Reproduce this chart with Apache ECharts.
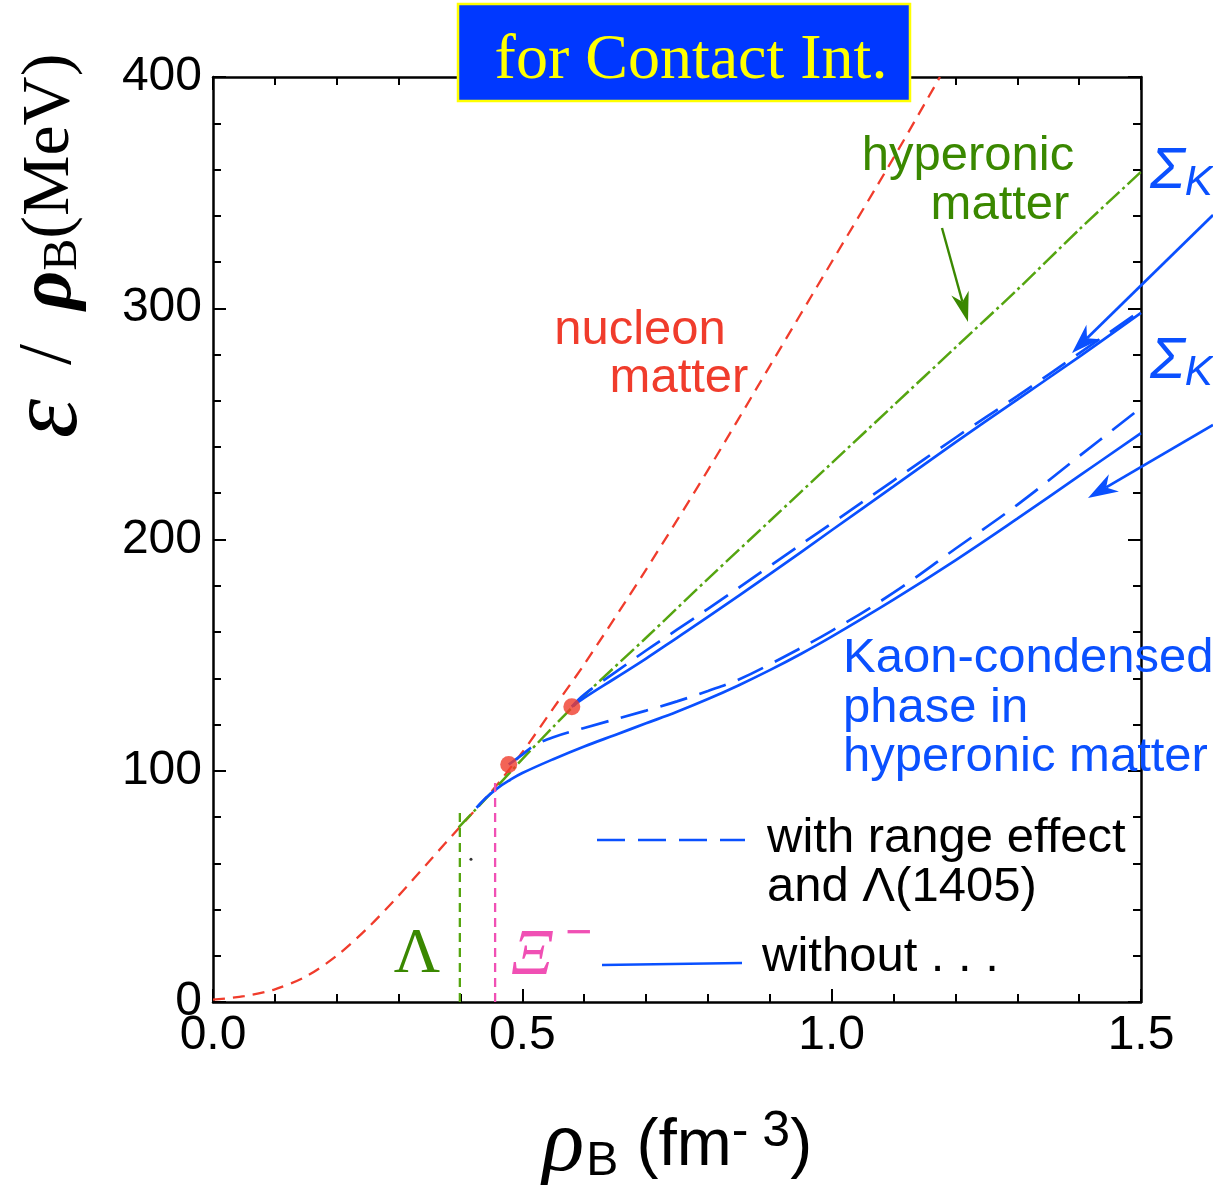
<!DOCTYPE html>
<html>
<head>
<meta charset="utf-8">
<script src="https://cdn.jsdelivr.net/npm/echarts@6/dist/echarts.min.js"></script>
<style>
html,body{margin:0;padding:0;background:#fff;}
#chart{width:1213px;height:1185px;}
</style>
</head>
<body>
<div id="chart"></div>
<script>
// ---- data ----
const xTickLabels = ['0.0', '0.5', '1.0', '1.5'];
const yTickLabels = ['0', '100', '200', '300', '400'];

const nucleonX = [0, 0.05, 0.1, 0.15, 0.2, 0.25, 0.3, 0.35, 0.4, 0.45, 0.5, 0.55, 0.6, 0.7, 0.8, 0.9, 1.0, 1.1, 1.175];
const nucleonY = [1, 2.5, 5.5, 11, 20, 32, 46, 61, 76, 91, 108, 127, 146, 187, 230, 275, 320, 365, 400];

const hyperonX = [0.397, 0.45, 0.5, 0.55, 0.6, 0.7, 0.8, 0.9, 1.0, 1.1, 1.2, 1.3, 1.4, 1.5];
const hyperonY = [75.5, 90.5, 105, 119, 132.5, 157.5, 183, 208, 233, 258, 283, 308, 334, 359];

const upperSolidX = [0.58, 0.6, 0.65, 0.7, 0.75, 0.8, 0.9, 1.0, 1.1, 1.2, 1.3, 1.4, 1.5];
const upperSolidY = [127.7, 131.5, 140, 148.5, 157.5, 166.5, 185, 204, 223, 242, 260.5, 279, 298];

const upperDashX = [0.58, 0.6, 0.65, 0.7, 0.75, 0.8, 0.9, 1.0, 1.1, 1.2, 1.3, 1.4, 1.5];
const upperDashY = [127.7, 133, 142.5, 152, 161, 170, 188.5, 207, 225.5, 244, 262, 280.5, 299];

const lowerSolidX = [0.426, 0.44, 0.46, 0.48, 0.5, 0.55, 0.6, 0.65, 0.7, 0.75, 0.8, 0.85, 0.9, 0.95, 1.0, 1.1, 1.2, 1.3, 1.4, 1.5];
const lowerSolidY = [84, 88, 92.5, 96, 99, 105, 110.5, 115.5, 120.5, 125.5, 131, 137, 143.5, 150.5, 158, 174, 191, 209, 227.5, 246];

const lowerDashX = [0.478, 0.5, 0.52, 0.55, 0.6, 0.7, 0.75, 0.8, 0.85, 0.9, 1.0, 1.1, 1.2, 1.3, 1.4, 1.5];
const lowerDashY = [102.7, 107, 111, 114.5, 118.5, 126, 130, 134.5, 139.5, 146, 160.5, 177, 196, 215, 236, 257];

const lambdaThresholdX = 0.399, lambdaThresholdTop = 82.4;
const xiThresholdX = 0.456, xiThresholdTop = 95;

const onsetX = [0.478, 0.58];
const onsetY = [102.7, 127.7];

const strayDotX = [0.417];
const strayDotY = [61.7];

// ---- build ----
function pair(xs, ys) { return xs.map((x, i) => [x, ys[i]]); }

const BLUE = '#0a50ff';
const RED = '#f03c2c';
const GREEN_LINE = '#55a510';
const GREEN_TXT = '#3a8800';
const PINK = '#f050b4';
const SANS = '"Liberation Sans", Arial, Helvetica, sans-serif';
const SERIF = '"Liberation Serif", "Times New Roman", serif';
const LBL = '49px ' + SANS;

const chart = echarts.init(document.getElementById('chart'), null, { renderer: 'canvas' });

const axisCommon = {
  type: 'value',
  axisLine: { show: true, onZero: false, lineStyle: { color: '#000', width: 2.5 } },
  axisTick: { show: true, inside: true, length: 13, lineStyle: { color: '#000', width: 2 } },
  minorTick: { show: true, splitNumber: 5, length: 8, lineStyle: { color: '#000', width: 2 } },
  splitLine: { show: false },
  minorSplitLine: { show: false }
};

const option = {
  animation: false,
  backgroundColor: '#fff',
  grid: { left: 213, right: 72, top: 77, bottom: 183, containLabel: false, outerBoundsMode: 'none' },
  xAxis: [
    Object.assign({}, axisCommon, {
      position: 'bottom', min: 0, max: 1.5, interval: 0.5,
      axisLabel: { show: true, margin: 10, color: '#000', fontSize: 48, fontFamily: SANS,
        formatter: (v) => xTickLabels[Math.round(v / 0.5)] },
      name: '{r|ρ}{s|B} (fm{sup|- 3})',
      nameLocation: 'middle', nameGap: 101,
      nameTextStyle: {
        color: '#000', fontFamily: SANS, fontSize: 66,
        rich: {
          r: { fontFamily: SERIF, fontStyle: 'italic', fontSize: 88, color: '#000' },
          s: { fontFamily: SANS, fontSize: 48, color: '#000', padding: [30, 0, 0, 2] },
          sup: { fontFamily: SANS, fontSize: 50, color: '#000', padding: [0, 0, 30, 0] }
        }
      }
    }),
    Object.assign({}, axisCommon, {
      position: 'top', min: 0, max: 1.5, interval: 0.5,
      axisLabel: { show: false }
    })
  ],
  yAxis: [
    Object.assign({}, axisCommon, {
      position: 'left', min: 0, max: 400, interval: 100,
      axisLabel: { show: true, margin: 11, color: '#000', fontSize: 48, fontFamily: SANS,
        formatter: (v) => yTickLabels[Math.round(v / 100)] }
    }),
    Object.assign({}, axisCommon, {
      position: 'right', min: 0, max: 400, interval: 100,
      axisLabel: { show: false }
    })
  ],
  series: [
    {
      name: 'nucleon matter', type: 'line', data: pair(nucleonX, nucleonY),
      smooth: 0.3, showSymbol: false, clip: true,
      lineStyle: { color: RED, width: 2.3, type: [12, 8] }
    },
    {
      name: 'hyperonic matter', type: 'line', data: pair(hyperonX, hyperonY),
      smooth: 0.3, showSymbol: false,
      lineStyle: { color: GREEN_LINE, width: 2.5, type: [18, 4, 3, 4] }
    },
    {
      name: 'upper without', type: 'line', data: pair(upperSolidX, upperSolidY),
      smooth: 0.4, showSymbol: false,
      lineStyle: { color: BLUE, width: 2.7, type: 'solid' }
    },
    {
      name: 'upper with range', type: 'line', data: pair(upperDashX, upperDashY),
      smooth: 0.4, showSymbol: false,
      lineStyle: { color: BLUE, width: 2.7, type: [28, 13] }
    },
    {
      name: 'lower without', type: 'line', data: pair(lowerSolidX, lowerSolidY),
      smooth: 0.4, showSymbol: false,
      lineStyle: { color: BLUE, width: 2.7, type: 'solid' }
    },
    {
      name: 'lower with range', type: 'line', data: pair(lowerDashX, lowerDashY),
      smooth: 0.4, showSymbol: false,
      lineStyle: { color: BLUE, width: 2.7, type: [28, 13] }
    },
    {
      name: 'Lambda threshold', type: 'line',
      data: [[lambdaThresholdX, 0], [lambdaThresholdX, lambdaThresholdTop]],
      showSymbol: false, lineStyle: { color: GREEN_LINE, width: 2.3, type: [9, 6] }
    },
    {
      name: 'Xi threshold', type: 'line',
      data: [[xiThresholdX, 0], [xiThresholdX, xiThresholdTop]],
      showSymbol: false, lineStyle: { color: PINK, width: 2.3, type: [9, 6] }
    },
    {
      name: 'onset', type: 'scatter', data: pair(onsetX, onsetY),
      symbolSize: 17, itemStyle: { color: RED }, z: 5
    },
    {
      name: 'dot', type: 'scatter', data: pair(strayDotX, strayDotY),
      symbolSize: 3, itemStyle: { color: '#000' }
    }
  ]
};

chart.setOption(option);

// ---- annotations ----
function arrow(x1, y1, x2, y2, color, lw, headLen, headW) {
  const dx = x2 - x1, dy = y2 - y1;
  const L = Math.sqrt(dx * dx + dy * dy);
  const ux = dx / L, uy = dy / L;
  const px = -uy, py = ux;
  const bx = x2 - ux * headLen, by = y2 - uy * headLen;
  const nx = x2 - ux * headLen * 0.7, ny = y2 - uy * headLen * 0.7;
  return [
    { type: 'line', z: 50, shape: { x1: x1, y1: y1, x2: nx, y2: ny }, style: { stroke: color, lineWidth: lw } },
    { type: 'polygon', z: 50, shape: { points: [[x2, y2], [bx + px * headW / 2, by + py * headW / 2], [nx, ny], [bx - px * headW / 2, by - py * headW / 2]] },
      style: { fill: color } }
  ];
}

function txt(x, y, text, font, color, align) {
  return { type: 'text', z: 60, x: x, y: y,
    style: { text: text, font: font, fill: color, align: align || 'left', verticalAlign: 'middle' } };
}

const g = [];
// title box
g.push({ type: 'rect', z: 80, shape: { x: 458, y: 4, width: 452, height: 97 },
  style: { fill: '#0038ff', stroke: '#ffff00', lineWidth: 2.5 } });
g.push({ type: 'text', z: 81, x: 691, y: 61,
  style: { text: 'for Contact Int.', font: '64px ' + SERIF, fill: '#ffff00', align: 'center', verticalAlign: 'middle' } });

// y axis title (rotated)
g.push({ type: 'text', z: 60, x: 50, y: 246, rotation: Math.PI / 2,
  style: {
    text: '{e|ε}  {sl|/}  {r|ρ}{s|B}(MeV)', fill: '#000', font: '68px ' + SERIF,
    align: 'center', verticalAlign: 'middle',
    rich: {
      e: { font: 'italic 100px ' + SERIF, fill: '#000' },
      sl: { font: '76px ' + SERIF, fill: '#000' },
      r: { font: 'italic bold 76px ' + SERIF, fill: '#000' },
      s: { font: '48px ' + SERIF, fill: '#000', padding: [26, 0, 0, 0] }
    }
  } });

// curve labels
g.push(txt(640, 330, 'nucleon', LBL, RED, 'center'));
g.push(txt(679, 378, 'matter', LBL, RED, 'center'));
g.push(txt(968, 156, 'hyperonic', LBL, GREEN_TXT, 'center'));
g.push(txt(1000, 205, 'matter', LBL, GREEN_TXT, 'center'));
g.push(txt(843, 658, 'Kaon-condensed', LBL, BLUE));
g.push(txt(843, 708, 'phase in', LBL, BLUE));
g.push(txt(843, 757, 'hyperonic matter', LBL, BLUE));

// Sigma labels (cut at the right edge)
g.push({ type: 'text', z: 60, x: 1150, y: 172,
  style: { text: '{a|Σ}{b|KN}', fill: BLUE, align: 'left', verticalAlign: 'middle',
    rich: { a: { font: 'italic 58px ' + SANS, fill: BLUE }, b: { font: 'italic 42px ' + SANS, fill: BLUE, padding: [22, 0, 0, 0] } } } });
g.push({ type: 'text', z: 60, x: 1150, y: 362,
  style: { text: '{a|Σ}{b|KN}', fill: BLUE, align: 'left', verticalAlign: 'middle',
    rich: { a: { font: 'italic 58px ' + SANS, fill: BLUE }, b: { font: 'italic 42px ' + SANS, fill: BLUE, padding: [22, 0, 0, 0] } } } });

// threshold labels
g.push(txt(417, 955, 'Λ', '64px ' + SERIF, GREEN_TXT, 'center'));
g.push(txt(532, 957, 'Ξ', 'italic 66px ' + SERIF, PINK, 'center'));
g.push(txt(579, 934, '−', '46px ' + SANS, PINK, 'center'));

// legend
g.push({ type: 'line', z: 60, shape: { x1: 597, y1: 840, x2: 745, y2: 840 },
  style: { stroke: BLUE, lineWidth: 2.7, lineDash: [28, 13] } });
g.push(txt(767, 838, 'with range effect', LBL, '#000'));
g.push(txt(767, 887, 'and Λ(1405)', LBL, '#000'));
g.push({ type: 'line', z: 60, shape: { x1: 602, y1: 965, x2: 742, y2: 963 },
  style: { stroke: BLUE, lineWidth: 2.7 } });
g.push(txt(762, 957, 'without . . .', LBL, '#000'));

// arrows
arrow(942, 228, 968, 322, GREEN_TXT, 2.4, 30, 18).forEach(e => g.push(e));
arrow(1213, 215, 1072, 353, BLUE, 2.7, 30, 20).forEach(e => g.push(e));
arrow(1213, 425, 1088, 498, BLUE, 2.7, 30, 20).forEach(e => g.push(e));

chart.setOption({ graphic: g });
</script>
</body>
</html>
